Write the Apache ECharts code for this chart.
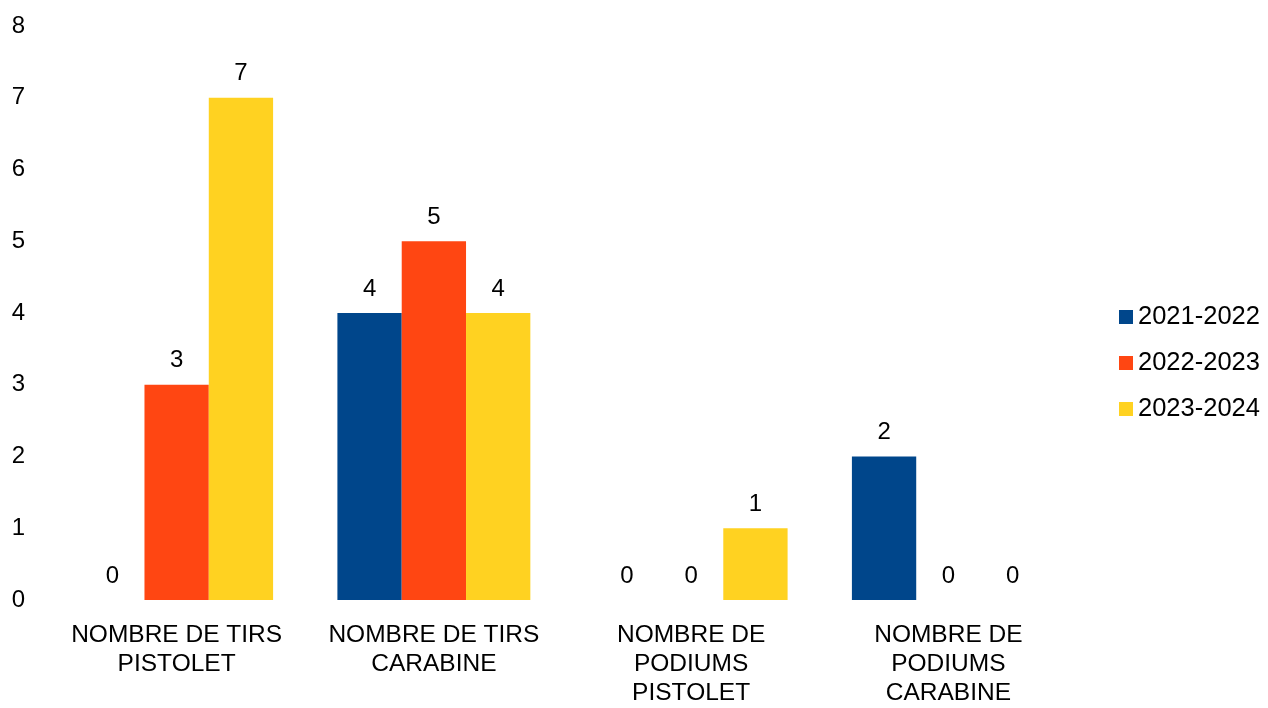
<!DOCTYPE html>
<html>
<head>
<meta charset="utf-8">
<script src="https://cdn.jsdelivr.net/npm/echarts@6/dist/echarts.min.js"></script>
<style>
  html, body { margin: 0; padding: 0; background: #fff; }
  #chart { width: 1268px; height: 708px; }
</style>
</head>
<body>
<div id="chart"></div>
<script>
// catégories et valeurs
const categories = [
  "NOMBRE DE TIRS\nPISTOLET",
  "NOMBRE DE TIRS\nCARABINE",
  "NOMBRE DE\nPODIUMS\nPISTOLET",
  "NOMBRE DE\nPODIUMS\nCARABINE"
];
const seasons = ["2021-2022", "2022-2023", "2023-2024"];
const values2021 = [0, 4, 0, 2];
const values2022 = [3, 5, 0, 0];
const values2023 = [7, 4, 1, 0];
const colors = ["#00468B", "#FF4612", "#FFD221"];

const font = "Liberation Sans, Arial, sans-serif";

const makeSeries = (name, data, color) => ({
  name: name,
  type: "bar",
  data: data,
  barGap: "0%",
  barCategoryGap: "25%",
  itemStyle: { color: color },
  label: {
    show: true,
    position: "top",
    distance: 12,
    color: "#000",
    fontSize: 24,
    fontFamily: font
  }
});

const chart = echarts.init(document.getElementById("chart"));
chart.setOption({
  animation: false,
  grid: { left: 48, right: 191, top: 26, bottom: 106, containLabel: false },
  legend: {
    orient: "vertical",
    left: 1114,
    top: 299,
    itemWidth: 14,
    itemHeight: 14,
    itemGap: 20,
    icon: "rect",
    textStyle: { fontSize: 25.5, color: "#000", fontFamily: font },
    data: seasons
  },
  xAxis: {
    type: "category",
    data: categories,
    axisLine: { show: false },
    axisTick: { show: false },
    axisLabel: {
      interval: 0,
      margin: 21,
      fontSize: 24.5,
      lineHeight: 29,
      color: "#000",
      fontFamily: font
    }
  },
  yAxis: {
    type: "value",
    min: 0,
    max: 8,
    interval: 1,
    axisLine: { show: false },
    axisTick: { show: false },
    splitLine: { show: false },
    axisLabel: { fontSize: 24, color: "#000", margin: 23, fontFamily: font }
  },
  series: [
    makeSeries(seasons[0], values2021, colors[0]),
    makeSeries(seasons[1], values2022, colors[1]),
    makeSeries(seasons[2], values2023, colors[2])
  ]
});
</script>
</body>
</html>
